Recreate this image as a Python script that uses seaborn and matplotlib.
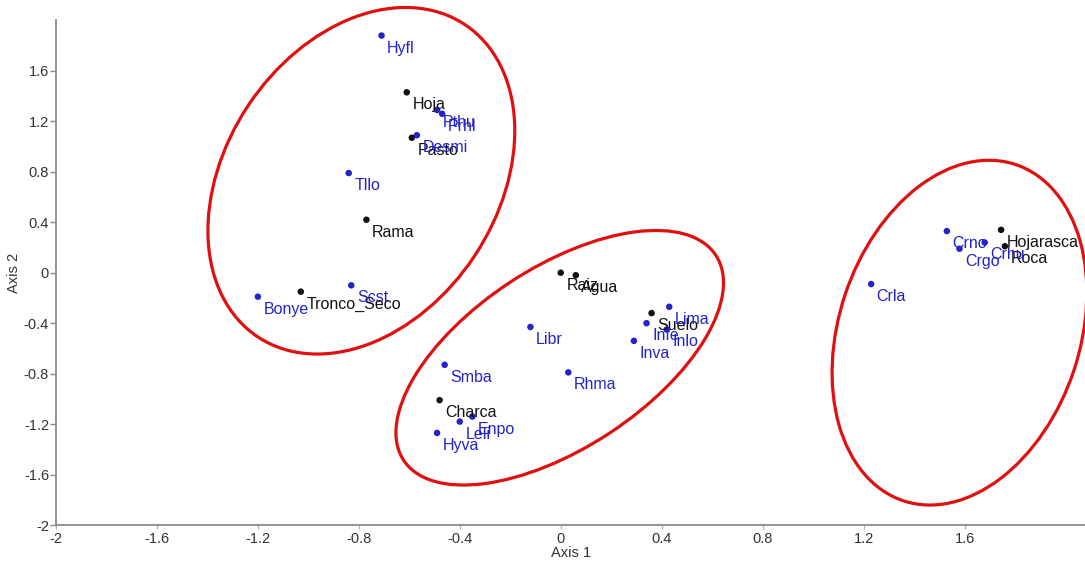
import numpy as np
import pandas as pd
import matplotlib
matplotlib.use("Agg")
import matplotlib.pyplot as plt
import seaborn as sns
from matplotlib.patches import Ellipse
from matplotlib.transforms import Affine2D

# habitats (black) and species (blue)
habitats = ["Hoja", "Pasto", "Rama", "Tronco_Seco", "Raiz", "Agua", "Suelo",
            "Charca", "Hojarasca", "Roca"]
hab_x = [-0.61, -0.59, -0.77, -1.03, 0.00, 0.06, 0.36, -0.48, 1.745, 1.76]
hab_y = [1.43, 1.07, 0.42, -0.15, 0.00, -0.02, -0.32, -1.01, 0.34, 0.21]

species = ["Hyfl", "Pthu", "Prhl", "Desmi", "Tllo", "Scst", "Bonye", "Libr",
           "Lima", "Infe", "Inlo", "Inva", "Rhma", "Smba", "Enpo", "Leli",
           "Hyva", "Crno", "Crhu", "Crgo", "Crla"]
sp_x = [-0.71, -0.49, -0.47, -0.57, -0.84, -0.83, -1.20, -0.12,
        0.43, 0.34, 0.42, 0.29, 0.03, -0.46, -0.35, -0.40,
        -0.49, 1.53, 1.68, 1.58, 1.23]
sp_y = [1.88, 1.29, 1.26, 1.09, 0.79, -0.10, -0.19, -0.43,
        -0.27, -0.40, -0.45, -0.54, -0.79, -0.73, -1.14, -1.18,
        -1.27, 0.33, 0.24, 0.19, -0.09]

# ellipses: centre (data), width/height in x-units, angle (deg)
ell_centres = [(-0.79, 0.729), (-0.004, -0.674), (1.58, -0.475)]
ell_widths = [1.485, 1.48, 1.405]
ell_heights = [1.077, 0.716, 0.955]
ell_angles = [56.5, 33.3, 71.5]

black = "#111111"
blue = "#2323c8"

df = pd.DataFrame({
    "x": hab_x + sp_x,
    "y": hab_y + sp_y,
    "label": habitats + species,
    "kind": ["hab"] * len(habitats) + ["sp"] * len(species),
})

sns.set_style("white")
plt.rcParams["font.family"] = ["Liberation Sans", "DejaVu Sans"]

fig = plt.figure(figsize=(10.85, 5.67), dpi=100)
ax = fig.add_axes([0.0516, 0.074, 0.949, 0.890])

sns.scatterplot(data=df, x="x", y="y", hue="kind",
                palette={"hab": black, "sp": blue}, s=22,
                edgecolor="none", legend=False, ax=ax)

for _, r in df.iterrows():
    ax.annotate(r["label"], (r["x"], r["y"]), xytext=(4, -9),
                textcoords="offset points", fontsize=11.5,
                color=black if r["kind"] == "hab" else blue,
                va="center", ha="left")

# y axis has half the px per unit of x, so draw ellipses in (x, y/2) space
tr = Affine2D().scale(1, 2) + ax.transData
for (cx, cy), w, h, a in zip(ell_centres, ell_widths, ell_heights, ell_angles):
    e = Ellipse((cx, cy / 2), w, h, angle=a, fill=False,
                edgecolor="#e01010", lw=2.3, transform=tr, clip_on=False)
    ax.add_patch(e)

ax.set_xlim(-2, 2.08)
ax.set_ylim(-2, 2.0)
ticks = [-2, -1.6, -1.2, -0.8, -0.4, 0, 0.4, 0.8, 1.2, 1.6]
ax.set_xticks(ticks)
ax.set_yticks(ticks)
ax.set_xticklabels([f"{t:g}" for t in ticks])
ax.set_yticklabels([f"{t:g}" for t in ticks])
ax.set_xlabel("Axis 1", fontsize=10.5, color="#333333", labelpad=0)
ax.set_ylabel("Axis 2", fontsize=10.5, color="#333333", labelpad=2)

for s in ["top", "right"]:
    ax.spines[s].set_visible(False)
for s in ["left", "bottom"]:
    ax.spines[s].set_color("#8a8a8a")
    ax.spines[s].set_linewidth(1.3)
ax.tick_params(axis="y", direction="out", length=4, width=1, color="#8a8a8a",
               labelsize=10.5, labelcolor="#333333", pad=1, left=True)
ax.tick_params(axis="x", direction="out", length=3, width=1, color="#bbbbbb",
               labelsize=10.5, labelcolor="#333333", pad=2, bottom=True)

fig.savefig("out.png", dpi=100)
